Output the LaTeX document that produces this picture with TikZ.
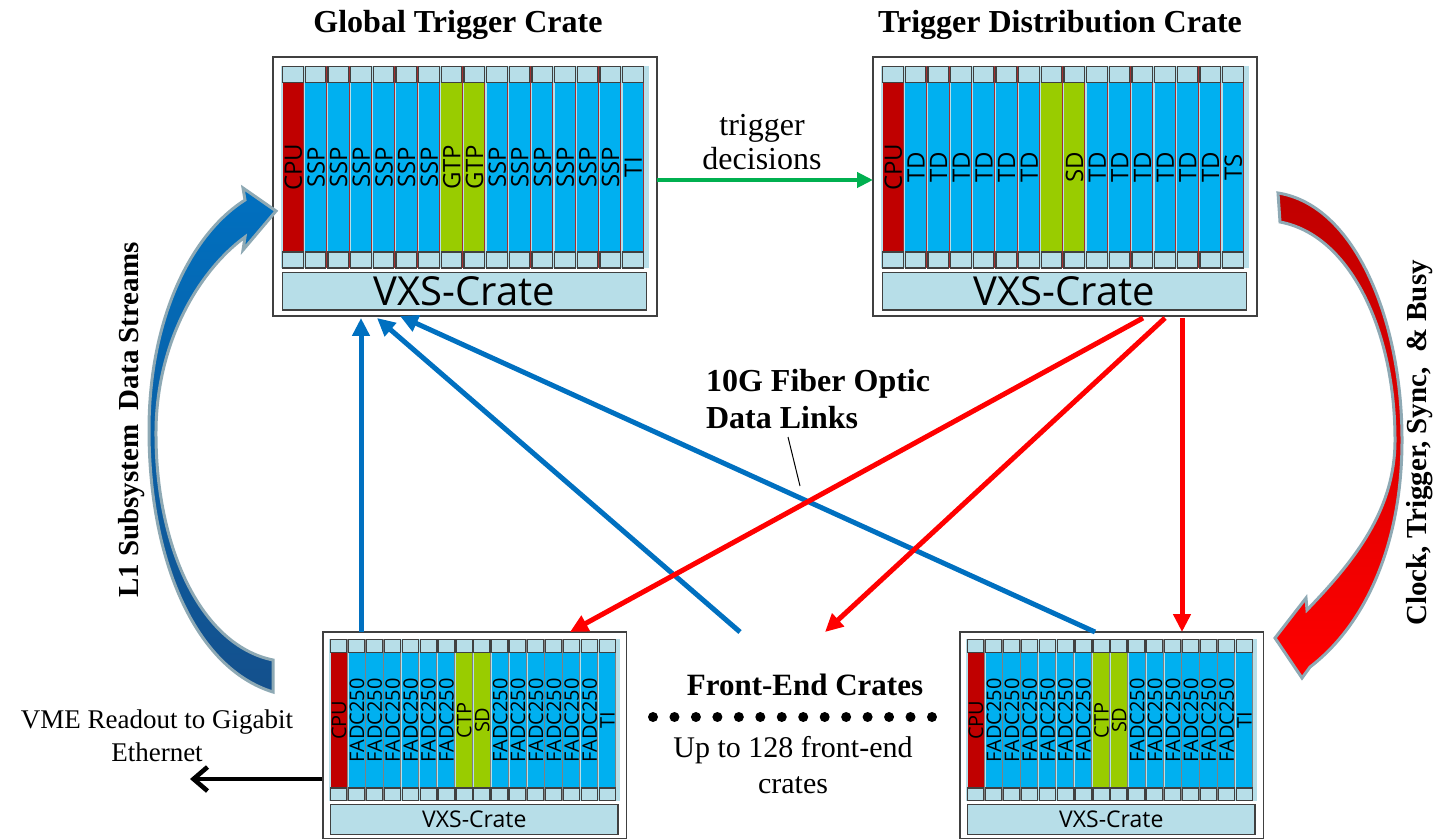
\documentclass[tikz,border=0pt]{standalone}
\usepackage{fontspec}
\setmainfont{Liberation Serif}
\newfontfamily\cratefont{Open Sans}
\usetikzlibrary{calc}
\usetikzlibrary{arrows.meta}
\usepackage{xcolor}

\definecolor{cpured}{HTML}{C00000}
\definecolor{cardblue}{HTML}{00B0F0}
\definecolor{cardgreen}{HTML}{99CC00}
\definecolor{slotbg}{HTML}{B7DEE8}
\definecolor{linkblue}{HTML}{0070C0}
\definecolor{linkred}{HTML}{FF0000}
\definecolor{linkgreen}{HTML}{00B050}
\definecolor{frameline}{HTML}{404040}
\definecolor{bigedge}{HTML}{8EA9B4}
\definecolor{cardline}{HTML}{A03030}

\newcommand{\cardbig}{\cratefont\fontsize{12}{14}\selectfont}
\newcommand{\cardsmall}{\cratefont\fontsize{10}{12}\selectfont}
\newcommand{\barbig}{\cratefont\fontsize{20}{24}\selectfont}
\newcommand{\barsmall}{\cratefont\fontsize{11.5}{14}\selectfont}

\tikzset{
  slotsq/.style={fill=slotbg, draw=frameline, line width=0.6pt},
  heading/.style={font=\bfseries\fontsize{16}{19}\selectfont},
  plaintext/.style={font=\fontsize{15}{18}\selectfont, align=center},
  sidetext/.style={font=\bfseries\fontsize{14.5}{17}\selectfont, rotate=90},
  bluelink/.style={linkblue, line width=2.5pt, -{Triangle[length=9pt,width=8.5pt]}},
  redlink/.style={linkred, line width=2.5pt, -{Triangle[length=9pt,width=8.5pt]}},
  greenlink/.style={linkgreen, line width=2pt, -{Triangle[length=8pt,width=7.5pt]}},
}

% one VXS crate, drawn in local pixel units from its top left corner
\newcommand{\cratebody}[5]{%
  \draw[frameline, line width=0.8pt] (0,0) rectangle (384,259);
  \fill[slotbg] (7.5,9) rectangle (375.5,211);
  \foreach \lab/\col [count=\i from 0] in {#2} {
    \fill[\col] ({9.7+22.66*\i},25.5) rectangle ++(20.5,169.5);
    \draw[#5, line width=0.4pt] ({30.6+22.66*\i},9) -- ++(0,202);
    \draw[slotsq] ({9.7+22.66*\i},9.5) rectangle ++(20.5,16);
    \draw[slotsq] ({9.7+22.66*\i},195) rectangle ++(20.5,16);
    \node[rotate=90, font=#3, inner sep=0pt] (#1-\i) at ({20.3+22.66*\i},110.25) {\lab};
  }
  \draw[slotsq] (9.5,215.5) rectangle (373.5,253);
  \node[font=#4] (#1-bar) at (191.5,234.5) {VXS-Crate};
}

\begin{document}
\begin{tikzpicture}[x=0.5pt,y=-0.5pt]
\useasboundingbox (0,0) rectangle (1439,839);

% crates
\begin{scope}[shift={(273,57)}]
\cratebody{gtc}{CPU/cpured,SSP/cardblue,SSP/cardblue,SSP/cardblue,SSP/cardblue,SSP/cardblue,SSP/cardblue,GTP/cardgreen,GTP/cardgreen,SSP/cardblue,SSP/cardblue,SSP/cardblue,SSP/cardblue,SSP/cardblue,SSP/cardblue,TI/cardblue}{\cardbig}{\barbig}{cardline}
\end{scope}
\begin{scope}[shift={(873,57)}]
\cratebody{tdc}{CPU/cpured,TD/cardblue,TD/cardblue,TD/cardblue,TD/cardblue,TD/cardblue,TD/cardblue,{}/cardgreen,SD/cardgreen,TD/cardblue,TD/cardblue,TD/cardblue,TD/cardblue,TD/cardblue,TD/cardblue,TS/cardblue}{\cardbig}{\barbig}{cardline}
\end{scope}
\begin{scope}[shift={(323,632)}, xscale=0.79, yscale=0.8]
\cratebody{fel}{CPU/cpured,FADC250/cardblue,FADC250/cardblue,FADC250/cardblue,FADC250/cardblue,FADC250/cardblue,FADC250/cardblue,CTP/cardgreen,SD/cardgreen,FADC250/cardblue,FADC250/cardblue,FADC250/cardblue,FADC250/cardblue,FADC250/cardblue,FADC250/cardblue,TI/cardblue}{\cardsmall}{\barsmall}{gray}
\end{scope}
\begin{scope}[shift={(960,632)}, xscale=0.79, yscale=0.8]
\cratebody{fer}{CPU/cpured,FADC250/cardblue,FADC250/cardblue,FADC250/cardblue,FADC250/cardblue,FADC250/cardblue,FADC250/cardblue,CTP/cardgreen,SD/cardgreen,FADC250/cardblue,FADC250/cardblue,FADC250/cardblue,FADC250/cardblue,FADC250/cardblue,FADC250/cardblue,TI/cardblue}{\cardsmall}{\barsmall}{gray}
\end{scope}

% texts
\node[heading] (gtctitle) at (458,25) {Global Trigger Crate};
\node[heading] (tdctitle) at (1060,25) {Trigger Distribution Crate};
\node[plaintext, font=\fontsize{16}{17}\selectfont] (trigdec) at (762,142) {trigger\\decisions};
\node[heading, align=left, anchor=west, font=\bfseries\fontsize{16}{18.5}\selectfont] (fiberlbl) at (699,399) {10G Fiber Optic\\Data Links};
\node[heading, font=\bfseries\fontsize{15.5}{18}\selectfont] (felbl) at (805,685) {Front-End Crates};
\node[plaintext] (uptolbl) at (793,765) {Up to 128 front-end\\crates};
\node[plaintext, font=\fontsize{13.5}{16.5}\selectfont] (vmelbl) at (157,736) {VME Readout to Gigabit\\Ethernet};
\node[sidetext] (l1lbl) at (132,420) {L1 Subsystem\ \ Data Streams};
\node[sidetext] (clklbl) at (1420,443) {Clock, Trigger, Sync,\ \ \& Busy};

% link ends
\coordinate (gtc-r) at (657,180);
\coordinate (tdc-l) at (873,180);
\coordinate (gtc-b1) at (361,318);
\coordinate (gtc-b2) at (377,318);
\coordinate (gtc-b3) at (400,316);
\coordinate (tdc-b1) at (1143,318);
\coordinate (tdc-b2) at (1165,318);
\coordinate (tdc-b3) at (1182,318);
\coordinate (fel-t1) at (361,632);
\coordinate (fel-t2) at (570,632);
\coordinate (mid-a) at (740,632);
\coordinate (mid-b) at (825,632);
\coordinate (fer-t1) at (1095,632);
\coordinate (fer-t2) at (1182,632);
\coordinate (fel-l) at (322,779);
\coordinate (vme-end) at (190,779);
\coordinate (lead-a) at (788,437);
\coordinate (lead-b) at (800,486);

\draw[greenlink] (gtc-r) -- (tdc-l);
\draw[bluelink] (fel-t1) -- (gtc-b1);
\draw[bluelink] (mid-a) -- (gtc-b2);
\draw[bluelink] (fer-t1) -- (gtc-b3);
\draw[redlink] (tdc-b1) -- (fel-t2);
\draw[redlink] (tdc-b2) -- (mid-b);
\draw[redlink] (tdc-b3) -- (fer-t2);
\draw[black, line width=2.3pt, -{Straight Barb[length=7pt,width=12pt]}] (fel-l) -- (vme-end);
\draw[black, line width=0.5pt] (lead-a) -- (lead-b);

% dots between front-end crates
\foreach \k in {0,...,13}
  \fill ({653+21.46*\k},717) circle (5);

% big curved arrows
\path[draw=bigedge, line width=1.5pt, top color=linkblue, bottom color={rgb,255:red,20;green,80;blue,140}]
  (273,692) .. controls (195,668) and (149,560) .. (149,430)
  .. controls (149,320) and (190,235) .. (245,200)
  -- (243,188) -- (276,211) -- (243,250) -- (245,237)
  .. controls (200,270) and (157,340) .. (156,430)
  .. controls (155,545) and (200,645) .. (273,660) -- cycle;
\path[draw=bigedge, line width=1.5pt, top color=cpured, bottom color=linkred]
  (1278,193) .. controls (1355,205) and (1402,320) .. (1402,440)
  .. controls (1402,545) and (1365,625) .. (1310,667)
  -- (1302,678) -- (1275,638) -- (1306,598) -- (1307,610)
  .. controls (1355,560) and (1395,510) .. (1395,440)
  .. controls (1395,330) and (1350,235) .. (1280,222) -- cycle;
\end{tikzpicture}
\end{document}
